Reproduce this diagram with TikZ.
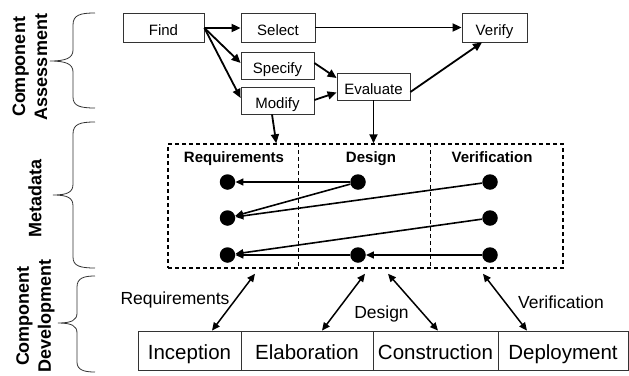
\documentclass[tikz,border=0pt]{standalone}
\usepackage{fontspec}
\setmainfont{Liberation Sans}
\usetikzlibrary{arrows.meta,calc}
\begin{document}
\begin{tikzpicture}[x=1pt,y=-1pt,
  box/.style={draw=black!80, line width=0.8pt, minimum height=29pt, inner sep=0pt,
    font=\fontsize{15}{18}\selectfont, text height=15pt, text depth=0pt},
  phase/.style={draw=black!80, line width=0.8pt, minimum height=39pt, inner sep=0pt,
    font=\fontsize{20.5}{24}\selectfont, text height=17.6pt, text depth=0pt},
  arr/.style={-{Triangle[length=9pt,width=8pt]}, line width=1.8pt},
  darr/.style={-{Triangle[length=8pt,width=7pt]}, line width=1.6pt},
  dbl/.style={{Triangle[length=8pt,width=7pt]}-{Triangle[length=8pt,width=7pt]}, line width=1.5pt},
  dashline/.style={line width=1.5pt, dash pattern=on 4pt off 3pt},
  dot/.style={circle, fill=black, minimum size=15.5pt, inner sep=0pt},
  head/.style={font=\fontsize{15}{18}\selectfont\bfseries, anchor=base, inner sep=0pt},
  side/.style={font=\fontsize{18}{22}\selectfont\bfseries, rotate=90, align=center, inner sep=0pt},
  lbl/.style={font=\fontsize{17.5}{21}\selectfont, anchor=base, inner sep=0pt},
  brace/.style={line width=0.8pt, black!80}
]
\useasboundingbox (0,0) rectangle (629,375);

% top flow
\node[box, minimum width=81pt] (find) at (163.5,27.5) {Find};
\node[box, minimum width=74pt] (select) at (278,27.5) {Select};
\node[box, minimum width=65pt] (verify) at (494.5,27.5) {Verify};
\node[box, minimum width=73pt, minimum height=27pt] (specify) at (277.5,65.5) {Specify};
\node[box, minimum width=73pt, minimum height=27pt] (modify) at (277.5,100.5) {Modify};
\node[box, minimum width=73pt, minimum height=27pt] (evaluate) at (373.5,86.5) {Evaluate};

\coordinate (fo) at ($(find.east)+(0,0.5)$);
\draw[arr] (fo) -- (select.west |- fo);
\draw[arr] (fo) -- ($(specify.west)+(0,-2.5)$);
\draw[arr] (fo) -- ($(modify.west)+(0,-2.5)$);
\draw[arr] (select.east) -- (verify.west);
\draw[arr] ($(specify.east)+(0,-2.5)$) -- ($(evaluate.west)+(0,-8.5)$);
\draw[arr] ($(modify.east)+(0,-0.5)$) -- ($(evaluate.west)+(0,6)$);
\draw[arr] ($(evaluate.east)+(0,5.5)$) -- ($(verify.south)+(-12.5,0)$);

% metadata box
\node[dashline, draw, minimum width=395pt, minimum height=124pt, inner sep=0pt] (meta) at (365.5,206) {};
\draw[dashline] ($(meta.north west)+(131,0)$) -- ($(meta.south west)+(131,0)$);
\draw[dashline] ($(meta.north west)+(263,0)$) -- ($(meta.south west)+(263,0)$);
\node[head] (hreq) at (234,162) {Requirements};
\node[head] (hdes) at (371,162) {Design};
\node[head] (hver) at (492,162) {Verification};

\draw[arr] ($(modify.south)+(-5.5,0)$) -- ($(meta.north west)+(109,0)$);
\draw[arr] (evaluate.south) -- (evaluate.south |- meta.north);

% dots
\node[dot] (r1) at (227.5,182) {};
\node[dot] (r2) at (227.5,218) {};
\node[dot] (r3) at (227.5,255) {};
\node[dot] (d1) at (358,182) {};
\node[dot] (d3) at (358,255) {};
\node[dot] (v1) at (490,182) {};
\node[dot] (v2) at (490,218) {};
\node[dot] (v3) at (490,255) {};

\draw[darr] (d1) -- (r1);
\draw[darr] (d1) -- (r2);
\draw[darr] (v1) -- (r2);
\draw[darr] (v2) -- (r3);
\draw[darr] (d3) -- (r3);
\draw[darr] (v3) -- (d3);

% phases
\node[phase, minimum width=103pt] (inc) at (189.5,350.5) {Inception};
\node[phase, minimum width=132pt] (ela) at (307,350.5) {Elaboration};
\node[phase, minimum width=125pt] (con) at (435.5,350.5) {Construction};
\node[phase, minimum width=130pt] (dep) at (563,350.5) {Deployment};

\draw[dbl] ($(meta.south)+(-110.5,5)$) -- ($(inc.north)+(22.5,0)$);
\draw[dbl] ($(meta.south)+(-0.5,5)$) -- ($(ela.north)+(15,0)$);
\draw[dbl] ($(meta.south)+(22.5,5)$) -- ($(con.north)+(2.5,0)$);
\draw[dbl] ($(meta.south)+(117.5,5)$) -- ($(dep.north)+(-36,0)$);

\node[lbl] (lreq) at (175,304) {Requirements};
\node[lbl] (ldes) at (381.5,318) {Design};
\node[lbl] (lver) at (561,308) {Verification};

% side labels
\node[side] (sa) at (30,67) {Component\\Assessment};
\node[side] (sm) at (35,198) {Metadata};
\node[side] (sd) at (35.5,316) {Component\\Development};

% braces
\draw[brace] (95,13) .. controls (80,13) and (73,15) .. (73,25) -- (73,50)
  .. controls (73,58) and (66,61) .. (50,61) .. controls (66,61) and (73,64) .. (73,72)
  -- (73,97) .. controls (73,106) and (80,108) .. (95,108);
\draw[brace] (95,122) .. controls (80,122) and (73,124) .. (73,134) -- (73,184)
  .. controls (73,192) and (68,195) .. (53,195) .. controls (68,195) and (73,198) .. (73,206)
  -- (73,257) .. controls (73,266) and (80,268) .. (95,268);
\draw[brace] (95,276) .. controls (84,276) and (77,278) .. (77,287) -- (77,313)
  .. controls (77,320) and (72,323) .. (58,323) .. controls (72,323) and (77,326) .. (77,333)
  -- (77,362) .. controls (77,370) and (84,372) .. (95,372);
\end{tikzpicture}
\end{document}
